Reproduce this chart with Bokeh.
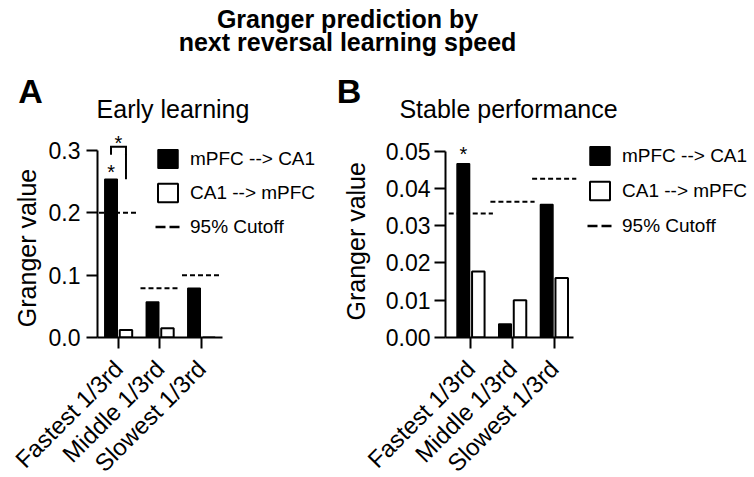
from math import pi
import numpy as np
from bokeh.plotting import figure
from bokeh.models import (ColumnDataSource, Legend, LegendItem, FixedTicker,
                          Range1d, NumeralTickFormatter, Title)
from bokeh.layouts import column, row
from bokeh.embed import file_html
from bokeh.resources import INLINE
from bokeh.core.properties import value

# ---------------- data ----------------
main_title = ["Granger prediction by", "next reversal learning speed"]
panel_letters = ["A", "B"]
panel_titles = ["Early learning", "Stable performance"]
y_label = "Granger value"
categories = ["Fastest 1/3rd", "Middle 1/3rd", "Slowest 1/3rd"]
series_names = ["mPFC --> CA1", "CA1 --> mPFC", "95% Cutoff"]

early_mpfc_ca1 = [0.254, 0.057, 0.079]
early_ca1_mpfc = [0.012, 0.015, 0.0]
early_cutoff = [0.200, 0.079, 0.100]
early_sig = [True, False, False]          # star above mPFC --> CA1 bar
early_pair_sig = [True, False, False]     # bracket mPFC->CA1 vs CA1->mPFC
early_bracket = [0.306, 0.293]            # bracket top, end of left leg
early_ticks = [0.0, 0.1, 0.2, 0.3]

stable_mpfc_ca1 = [0.0466, 0.0036, 0.0357]
stable_ca1_mpfc = [0.0177, 0.0100, 0.0160]
stable_cutoff = [0.0333, 0.0364, 0.0426]
stable_sig = [True, False, False]
stable_pair_sig = [False, False, False]
stable_bracket = [0.0, 0.0]
stable_ticks = [0.00, 0.01, 0.02, 0.03, 0.04, 0.05]

FONT = "Liberation Sans"
HEADER_H = 125
FRAME_H = 212
ROW_H = 350
BASE_SHIFT = 0.34   # correction (in em) between requested and drawn baseline


def make_panel(mpfc, ca1, cutoff, sig, pair_sig, bracket, ticks, fmt,
               frame_w, border_left, x_start, ppu_x, ppu_y, x_bound_end,
               cut_hw, legend_loc, legend_spacing, star_yoff, ytick_standoff,
               ylabel_offset, ylabel_standoff):
    x_end = x_start + frame_w / ppu_x
    y_end = FRAME_H / ppu_y

    p = figure(title=None, frame_width=frame_w, frame_height=FRAME_H,
               min_border_left=border_left, min_border_right=0,
               min_border_top=0, min_border_bottom=ROW_H - FRAME_H,
               x_range=Range1d(x_start, x_end), y_range=Range1d(0, y_end),
               output_backend="svg", toolbar_location=None)
    p.outline_line_color = None
    p.grid.visible = False

    xc = np.arange(len(categories), dtype=float)
    off = 0.18
    bw = 0.3
    src = ColumnDataSource(dict(xb=xc - off, xw=xc + off, mpfc=mpfc, ca1=ca1,
                                x0=xc - cut_hw, x1=xc + cut_hw, cut=cutoff))
    rb = p.vbar(x="xb", top="mpfc", bottom=0, width=bw, source=src,
                fill_color="black", line_color="black", line_width=1.5)
    rw = p.vbar(x="xw", top="ca1", bottom=0, width=bw, source=src,
                fill_color="white", line_color="black", line_width=2)
    p.segment(x0="x0", x1="x1", y0="cut", y1="cut", source=src,
              line_color="black", line_width=2, line_dash="5 3")
    # single-point line (draws nothing) used for the legend swatch of the cutoff
    rleg = p.line(x=[xc[0]], y=[cutoff[0]], line_color="black", line_width=2.5,
                  line_dash="10 4")

    star_shift = -BASE_SHIFT * 20
    sx = [xc[i] - off for i in range(len(sig)) if sig[i]]
    sy = [mpfc[i] for i in range(len(sig)) if sig[i]]
    if sx:
        p.text(x=sx, y=sy, text=["*"] * len(sx), text_align="center",
               text_baseline="alphabetic", y_offset=star_yoff + star_shift,
               text_font=value(FONT), text_font_size="20px", text_color="black")
    for i, s in enumerate(pair_sig):
        if s:
            bx = [xc[i] - off, xc[i] - off, xc[i] + off, xc[i] + off]
            by = [bracket[1], bracket[0], bracket[0], mpfc[i]]
            p.line(x=bx, y=by, line_color="black", line_width=2, line_join="miter")
            p.text(x=[xc[i]], y=[bracket[0]], text=["*"], text_align="center",
                   text_baseline="alphabetic", y_offset=3 + star_shift,
                   text_font=value(FONT), text_font_size="20px", text_color="black")

    xa = p.xaxis[0]
    xa.ticker = FixedTicker(ticks=list(range(len(categories))))
    xa.major_label_overrides = {i: c for i, c in enumerate(categories)}
    xa.major_label_orientation = pi / 4
    xa.bounds = (x_start, x_bound_end)
    ya = p.yaxis[0]
    ya.ticker = FixedTicker(ticks=ticks)
    ya.formatter = NumeralTickFormatter(format=fmt)
    ya.bounds = (0, max(ticks))
    for ax in (xa, ya):
        ax.axis_line_width = 2
        ax.axis_line_color = "black"
        ax.major_tick_line_width = 2
        ax.major_tick_line_color = "black"
        ax.major_tick_out = 11
        ax.major_tick_in = 0
        ax.minor_tick_out = 0
        ax.minor_tick_in = 0
        ax.major_label_text_font = FONT
        ax.major_label_text_color = "black"
    ya.major_label_text_font_size = "23px"
    ya.major_label_standoff = ytick_standoff
    xa.major_label_text_font_size = "24px"
    xa.major_label_standoff = 16

    p.add_layout(Title(text=y_label, align="left", offset=ylabel_offset,
                       standoff=ylabel_standoff, text_font=FONT,
                       text_font_size="25px", text_font_style="normal",
                       text_color="black"), "left")

    legend = Legend(items=[LegendItem(label=series_names[0], renderers=[rb]),
                           LegendItem(label=series_names[1], renderers=[rw]),
                           LegendItem(label=series_names[2], renderers=[rleg])],
                    location=legend_loc, glyph_width=25, glyph_height=23,
                    label_height=23, label_standoff=10, spacing=legend_spacing,
                    padding=0, margin=0, border_line_alpha=0,
                    background_fill_alpha=0, label_text_font=FONT,
                    label_text_font_size="19px", label_text_color="black")
    p.add_layout(legend)
    return p


# header: main title, panel letters and panel titles (screen-pixel coordinates)
header = figure(title=None, title_location=None, frame_width=752,
                frame_height=HEADER_H, x_range=Range1d(0, 752),
                y_range=Range1d(HEADER_H, 0), x_axis_type=None, y_axis_type=None,
                min_border=0, output_backend="svg", toolbar_location=None)
header.outline_line_color = None
header.grid.visible = False
header.text(x=[347, 347], y=[26.7, 50], text=main_title, text_align="center",
            text_baseline="alphabetic", y_offset=-BASE_SHIFT * 25,
            text_font=value(FONT), text_font_size="25px",
            text_font_style="bold", text_color="black")
header.text(x=[30, 348.5], y=[102, 102], text=panel_letters, text_align="center",
            text_baseline="alphabetic", y_offset=-BASE_SHIFT * 34,
            text_font=value(FONT), text_font_size="34px",
            text_font_style="bold", text_color="black")
header.text(x=[172.5, 508], y=[116.7, 116.7], text=panel_titles, text_align="center",
            text_baseline="alphabetic", y_offset=-BASE_SHIFT * 25,
            text_font=value(FONT), text_font_size="25px", text_color="black")

pA = make_panel(early_mpfc_ca1, early_ca1_mpfc, early_cutoff, early_sig,
                early_pair_sig, early_bracket, early_ticks, "0.0",
                frame_w=229, border_left=97, x_start=-0.506, ppu_x=41.5,
                ppu_y=623.3, x_bound_end=2.5, cut_hw=0.47,
                legend_loc=(58, 99), legend_spacing=11, star_yoff=0,
                ytick_standoff=6, ylabel_offset=10.3, ylabel_standoff=10)

pB = make_panel(stable_mpfc_ca1, stable_ca1_mpfc, stable_cutoff, stable_sig,
                stable_pair_sig, stable_bracket, stable_ticks, "0.00",
                frame_w=310, border_left=116, x_start=-0.607, ppu_x=41.7,
                ppu_y=3726, x_bound_end=2.46, cut_hw=0.53,
                legend_loc=(142, 100), legend_spacing=12, star_yoff=-3,
                ytick_standoff=4, ylabel_offset=17, ylabel_standoff=26)

layout = column(header, row(pA, pB))
open("out.html", "w").write(file_html(layout, INLINE))
